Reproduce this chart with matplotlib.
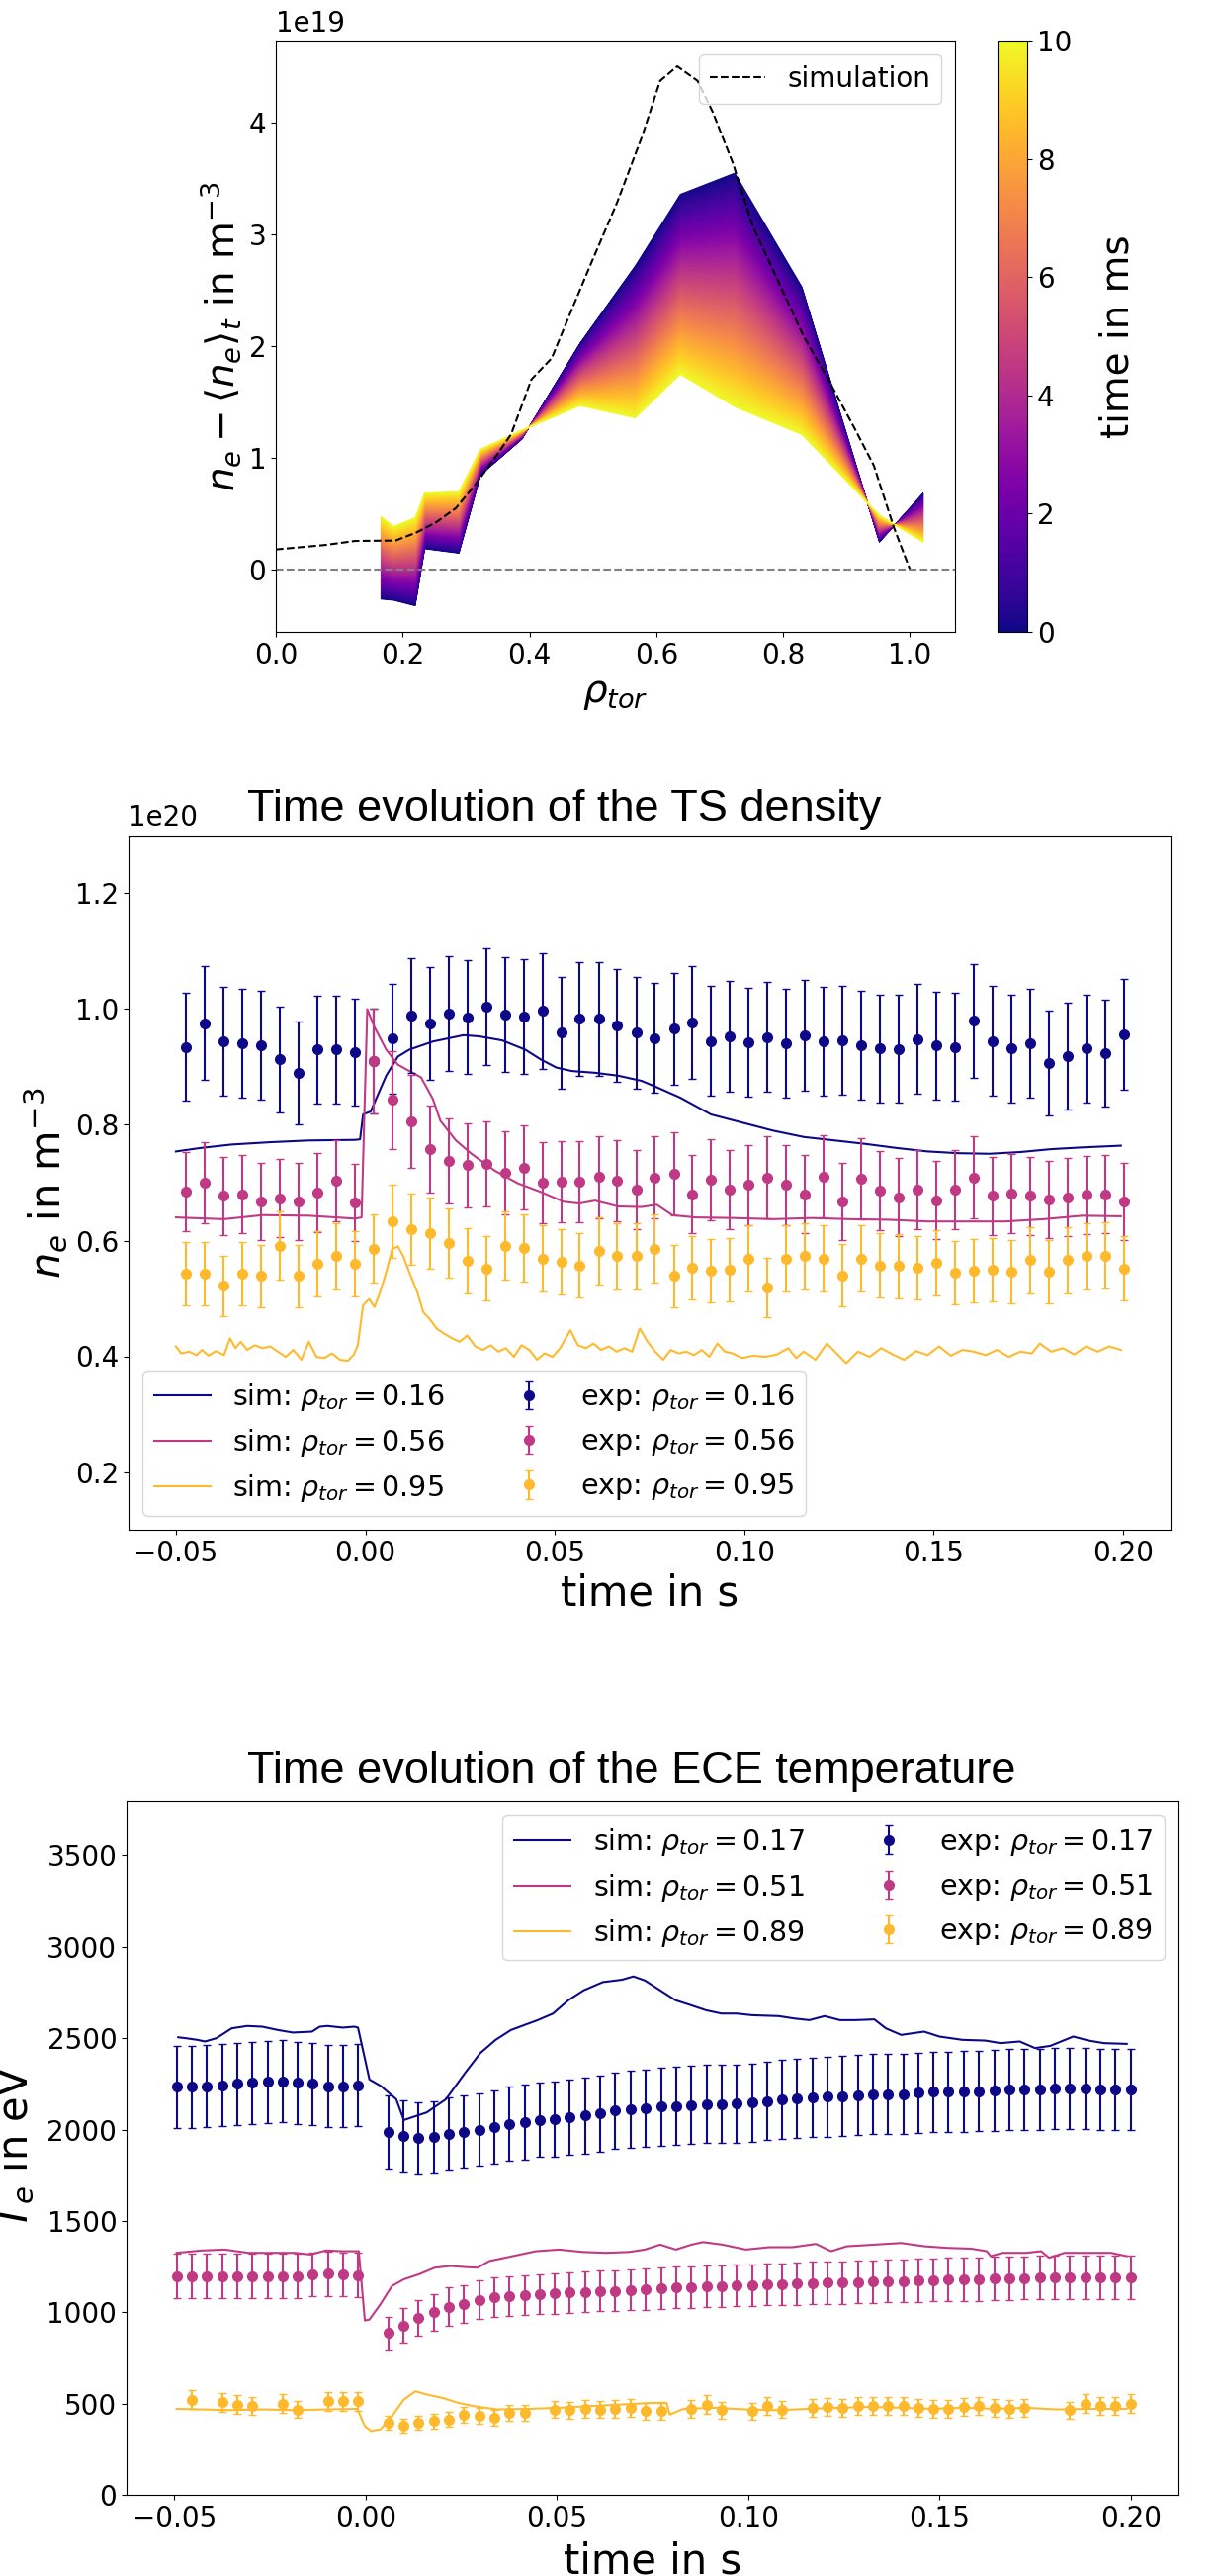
import numpy as np
import matplotlib
matplotlib.use("Agg")
import matplotlib.pyplot as plt
from matplotlib.colors import Normalize
from matplotlib.cm import ScalarMappable

# ---------------- panel 1: density change profile (1e19 m^-3) ----------------
rho_ts = [0.165, 0.185, 0.219, 0.234, 0.288, 0.322, 0.387, 0.479, 0.566, 0.637, 0.723, 0.829, 0.951, 1.02]
dne_t0 = [-0.26, -0.27, -0.32, 0.19, 0.15, 0.85, 1.17, 2.03, 2.72, 3.36, 3.55, 2.53, 0.25, 0.69]
dne_t10 = [0.48, 0.39, 0.47, 0.69, 0.70, 1.08, 1.25, 1.47, 1.36, 1.75, 1.46, 1.21, 0.49, 0.25]

rho_sim = [0.0, 0.078, 0.125, 0.189, 0.221, 0.252, 0.284, 0.316, 0.348, 0.371, 0.403, 0.435,
           0.467, 0.498, 0.538, 0.578, 0.606, 0.633, 0.665, 0.689, 0.721, 0.752, 0.792, 0.832,
           0.871, 0.911, 0.943, 0.975, 1.0]
dne_sim = [0.18, 0.22, 0.256, 0.26, 0.33, 0.42, 0.55, 0.77, 1.02, 1.21, 1.70, 1.89,
           2.33, 2.75, 3.28, 3.88, 4.37, 4.50, 4.37, 4.09, 3.63, 3.07, 2.58, 2.09,
           1.70, 1.28, 0.93, 0.37, 0.0]
t_max_ms = 10

# ---------------- panel 2: TS density (1e20 m^-3) ----------------
t_ts = [-0.0473, -0.0424, -0.0374, -0.0325, -0.0275, -0.0226, -0.0176, -0.0127, -0.0077, -0.0028,
        0.0022, 0.0071, 0.0121, 0.0170, 0.0220, 0.0269, 0.0319, 0.0368, 0.0418, 0.0467,
        0.0517, 0.0566, 0.0616, 0.0665, 0.0715, 0.0764, 0.0814, 0.0863, 0.0913, 0.0962,
        0.1012, 0.1061, 0.1111, 0.1160, 0.1210, 0.1259, 0.1309, 0.1358, 0.1408, 0.1457,
        0.1507, 0.1556, 0.1606, 0.1655, 0.1705, 0.1754, 0.1804, 0.1853, 0.1903, 0.1952, 0.2002]
ne_exp_016 = [0.935, 0.976, 0.944, 0.941, 0.938, 0.913, 0.890, 0.930, 0.930, 0.926,
              0.910, 0.949, 0.989, 0.975, 0.992, 0.986, 1.004, 0.990, 0.987, 0.997,
              0.959, 0.983, 0.983, 0.972, 0.959, 0.950, 0.966, 0.977, 0.945, 0.953,
              0.943, 0.952, 0.941, 0.955, 0.944, 0.946, 0.938, 0.932, 0.931, 0.948,
              0.937, 0.935, 0.980, 0.945, 0.932, 0.941, 0.907, 0.919, 0.932, 0.924, 0.956]
ne_exp_056 = [0.684, 0.700, 0.677, 0.680, 0.667, 0.673, 0.667, 0.683, 0.703, 0.666,
              0.910, 0.843, 0.806, 0.758, 0.737, 0.730, 0.732, 0.717, 0.726, 0.700,
              0.701, 0.701, 0.710, 0.703, 0.688, 0.709, 0.715, 0.680, 0.705, 0.688,
              0.696, 0.709, 0.696, 0.680, 0.711, 0.667, 0.707, 0.686, 0.675, 0.688,
              0.670, 0.688, 0.709, 0.677, 0.681, 0.677, 0.671, 0.675, 0.679, 0.680, 0.667]
ne_exp_095 = [0.543, 0.543, 0.522, 0.543, 0.539, 0.591, 0.539, 0.560, 0.573, 0.560,
              0.586, 0.634, 0.620, 0.613, 0.596, 0.565, 0.552, 0.591, 0.587, 0.569,
              0.563, 0.557, 0.582, 0.573, 0.573, 0.586, 0.539, 0.553, 0.548, 0.550,
              0.569, 0.519, 0.569, 0.573, 0.569, 0.540, 0.569, 0.557, 0.556, 0.553,
              0.562, 0.544, 0.548, 0.549, 0.546, 0.566, 0.546, 0.566, 0.573, 0.574, 0.552]

t_sim_016 = [-0.05, -0.0435, -0.0353, -0.0251, -0.0149, -0.0027, -0.0014, -0.0006, 0.0014, 0.0055,
             0.0086, 0.0116, 0.0178, 0.0259, 0.0300, 0.0361, 0.0422, 0.0463, 0.0504, 0.0545,
             0.0606, 0.0667, 0.0729, 0.0769, 0.0831, 0.0912, 0.0994, 0.1076, 0.1157, 0.1239,
             0.1320, 0.1402, 0.1484, 0.1565, 0.1647, 0.1729, 0.1810, 0.1892, 0.1994]
ne_sim_016 = [0.754, 0.760, 0.766, 0.770, 0.773, 0.774, 0.775, 0.818, 0.823, 0.885,
              0.918, 0.930, 0.944, 0.955, 0.953, 0.946, 0.930, 0.913, 0.899, 0.893,
              0.890, 0.885, 0.876, 0.865, 0.847, 0.818, 0.804, 0.790, 0.779, 0.773,
              0.767, 0.760, 0.754, 0.751, 0.750, 0.753, 0.758, 0.761, 0.764]
t_sim_056 = [-0.05, -0.0373, -0.0271, -0.0149, -0.0027, -0.0010, 0.0005, 0.0024, 0.0055, 0.0086,
             0.0116, 0.0147, 0.0178, 0.0198, 0.0239, 0.0280, 0.0341, 0.0402, 0.0463, 0.0524,
             0.0565, 0.0606, 0.0667, 0.0729, 0.0769, 0.0810, 0.0871, 0.0973, 0.1076, 0.1178,
             0.1280, 0.1382, 0.1484, 0.1586, 0.1688, 0.1790, 0.1892, 0.1994]
ne_sim_056 = [0.640, 0.637, 0.644, 0.643, 0.638, 0.640, 1.000, 0.969, 0.930, 0.904,
              0.893, 0.882, 0.845, 0.807, 0.773, 0.750, 0.721, 0.699, 0.684, 0.667,
              0.664, 0.669, 0.659, 0.658, 0.662, 0.644, 0.640, 0.639, 0.637, 0.639,
              0.637, 0.636, 0.633, 0.633, 0.633, 0.637, 0.643, 0.642]
t_sim_095 = [-0.0500, -0.0486, -0.0465, -0.0445, -0.0431, -0.0414, -0.0394, -0.0373, -0.0357, -0.0343,
             -0.0329, -0.0312, -0.0292, -0.0271, -0.0251, -0.0231, -0.0210, -0.0190, -0.0169, -0.0149,
             -0.0129, -0.0108, -0.0088, -0.0067, -0.0047, -0.0031, -0.0020, -0.0006, 0.0010, 0.0024,
             0.0039, 0.0055, 0.0071, 0.0086, 0.0100, 0.0116, 0.0137, 0.0153, 0.0169, 0.0188,
             0.0208, 0.0229, 0.0249, 0.0269, 0.0290, 0.0310, 0.0331, 0.0351, 0.0371, 0.0392,
             0.0412, 0.0433, 0.0453, 0.0473, 0.0494, 0.0514, 0.0541, 0.0561, 0.0582, 0.0602,
             0.0622, 0.0643, 0.0663, 0.0684, 0.0704, 0.0724, 0.0745, 0.0765, 0.0786, 0.0806,
             0.0827, 0.0847, 0.0867, 0.0888, 0.0908, 0.0929, 0.0949, 0.0969, 0.0994, 0.1024,
             0.1055, 0.1086, 0.1116, 0.1137, 0.1157, 0.1188, 0.1218, 0.1239, 0.1269, 0.1300,
             0.1331, 0.1361, 0.1392, 0.1422, 0.1453, 0.1484, 0.1514, 0.1545, 0.1576, 0.1606,
             0.1637, 0.1667, 0.1698, 0.1729, 0.1759, 0.1780, 0.1810, 0.1841, 0.1871, 0.1902,
             0.1933, 0.1963, 0.1994]
ne_sim_095 = [0.417, 0.405, 0.408, 0.402, 0.411, 0.401, 0.409, 0.402, 0.431, 0.414,
              0.425, 0.411, 0.419, 0.414, 0.417, 0.408, 0.399, 0.411, 0.394, 0.425,
              0.399, 0.397, 0.405, 0.394, 0.392, 0.402, 0.419, 0.488, 0.499, 0.485,
              0.511, 0.545, 0.585, 0.590, 0.573, 0.545, 0.511, 0.476, 0.465, 0.448,
              0.439, 0.431, 0.425, 0.436, 0.417, 0.411, 0.419, 0.408, 0.414, 0.399,
              0.419, 0.411, 0.394, 0.405, 0.399, 0.414, 0.445, 0.419, 0.414, 0.422,
              0.411, 0.417, 0.408, 0.414, 0.408, 0.448, 0.425, 0.408, 0.394, 0.411,
              0.405, 0.408, 0.402, 0.411, 0.399, 0.422, 0.408, 0.405, 0.397, 0.401,
              0.399, 0.403, 0.414, 0.397, 0.408, 0.394, 0.422, 0.408, 0.388, 0.408,
              0.399, 0.414, 0.403, 0.394, 0.409, 0.402, 0.417, 0.401, 0.411, 0.408,
              0.402, 0.411, 0.399, 0.408, 0.405, 0.422, 0.408, 0.414, 0.403, 0.417,
              0.408, 0.417, 0.411]

# ---------------- panel 3: ECE temperature (eV) ----------------
t_ece = [-0.0494, -0.0454, -0.0415, -0.0375, -0.0336, -0.0296, -0.0256, -0.0217, -0.0177, -0.0138,
         -0.0098, -0.0058, -0.0019,
         0.0059, 0.0099, 0.0138, 0.0178, 0.0218, 0.0257, 0.0297, 0.0336, 0.0376, 0.0416,
         0.0455, 0.0495, 0.0534, 0.0574, 0.0614, 0.0653, 0.0693, 0.0732, 0.0772, 0.0812,
         0.0851, 0.0891, 0.0930, 0.0970, 0.1010, 0.1049, 0.1089, 0.1128, 0.1168, 0.1208,
         0.1247, 0.1287, 0.1326, 0.1366, 0.1406, 0.1445, 0.1485, 0.1524, 0.1564, 0.1604,
         0.1643, 0.1683, 0.1722, 0.1762, 0.1802, 0.1841, 0.1881, 0.1920, 0.1960, 0.2000]
te_exp_017 = [2233, 2233, 2238, 2242, 2251, 2256, 2260, 2265, 2256, 2251, 2238, 2238, 2242,
              1986, 1964, 1955, 1959, 1977, 1989, 2000, 2013, 2031, 2040,
              2054, 2058, 2067, 2076, 2088, 2103, 2112, 2115, 2126, 2130,
              2135, 2139, 2139, 2143, 2148, 2157, 2166, 2171, 2175, 2180,
              2184, 2188, 2193, 2193, 2193, 2202, 2206, 2206, 2208, 2211,
              2215, 2217, 2220, 2220, 2224, 2224, 2224, 2220, 2217, 2217]
te_exp_051 = [1199, 1199, 1199, 1199, 1199, 1199, 1199, 1199, 1199, 1208, 1211, 1208, 1204,
              886, 928, 969, 1000, 1031, 1045, 1069, 1081, 1087, 1094,
              1099, 1103, 1108, 1112, 1117, 1117, 1123, 1126, 1132, 1135,
              1139, 1141, 1144, 1148, 1148, 1153, 1153, 1157, 1159, 1162,
              1162, 1166, 1168, 1171, 1171, 1175, 1177, 1179, 1180, 1180,
              1184, 1186, 1188, 1190, 1190, 1190, 1193, 1193, 1190, 1190]
nan = float("nan")
te_exp_089 = [nan, 522, nan, 507, 495, 489, nan, 500, 468, nan, 513, 513, 513,
              395, 377, 395, 404, 413, 440, 431, 422, 449, 449,
              nan, 468, 464, 471, 468, 471, 477, 458, 458, nan,
              471, 495, 464, nan, 458, 486, 468, nan, 477, 482,
              477, 486, 489, 489, 486, 477, 471, 471, 482, 486,
              477, 471, 477, nan, nan, 464, 500, 489, 489, 500]

t_te_017 = [-0.049, -0.047, -0.044, -0.042, -0.039, -0.035, -0.031, -0.027, -0.023, -0.019,
            -0.014, -0.012, -0.010, -0.006, -0.003, -0.002, 0.001, 0.004, 0.008, 0.010,
            0.016, 0.021, 0.026, 0.030, 0.034, 0.038, 0.045, 0.049, 0.053, 0.057,
            0.062, 0.067, 0.070, 0.073, 0.077, 0.081, 0.085, 0.089, 0.093, 0.097,
            0.101, 0.108, 0.112, 0.116, 0.120, 0.124, 0.128, 0.133, 0.136, 0.140,
            0.146, 0.150, 0.156, 0.162, 0.166, 0.171, 0.175, 0.179, 0.185, 0.189,
            0.193, 0.199]
te_sim_017 = [2505, 2500, 2491, 2482, 2500, 2554, 2567, 2563, 2545, 2531,
              2536, 2563, 2567, 2558, 2563, 2558, 2274, 2238, 2166, 2052,
              2094, 2166, 2310, 2419, 2491, 2545, 2599, 2635, 2708, 2762,
              2807, 2820, 2838, 2816, 2762, 2708, 2681, 2653, 2635, 2635,
              2626, 2621, 2608, 2599, 2621, 2599, 2599, 2603, 2554, 2518,
              2536, 2509, 2491, 2487, 2473, 2482, 2446, 2458, 2509, 2487,
              2473, 2469]
t_te_051 = [-0.0494, -0.0429, -0.0368, -0.0307, -0.0246, -0.0185, -0.0144, -0.0104, -0.0063, -0.0018,
            -0.0002, 0.0010, 0.0039, 0.0069, 0.0100, 0.0140, 0.0181, 0.0222, 0.0262, 0.0293,
            0.0323, 0.0384, 0.0445, 0.0506, 0.0567, 0.0628, 0.0689, 0.0730, 0.0770, 0.0811,
            0.0852, 0.0882, 0.0933, 0.0994, 0.1055, 0.1116, 0.1177, 0.1217, 0.1258, 0.1299,
            0.1360, 0.1400, 0.1461, 0.1522, 0.1583, 0.1624, 0.1634, 0.1665, 0.1726, 0.1766,
            0.1787, 0.1827, 0.1888, 0.1949, 0.1990]
te_sim_051 = [1325, 1338, 1343, 1325, 1325, 1325, 1316, 1338, 1334, 1334,
              955, 960, 1045, 1144, 1180, 1208, 1244, 1253, 1247, 1244,
              1280, 1307, 1334, 1343, 1330, 1325, 1330, 1343, 1370, 1343,
              1370, 1384, 1370, 1343, 1356, 1356, 1374, 1334, 1361, 1366,
              1374, 1379, 1361, 1352, 1348, 1334, 1307, 1325, 1325, 1334,
              1298, 1325, 1325, 1325, 1307]
t_te_089 = [-0.0494, -0.0429, -0.0348, -0.0266, -0.0185, -0.0104, -0.0022, -0.0002, 0.0014, 0.0039,
            0.0069, 0.0100, 0.0130, 0.0161, 0.0201, 0.0242, 0.0283, 0.0343, 0.0425, 0.0506,
            0.0587, 0.0669, 0.0750, 0.0787, 0.0795, 0.0831, 0.0913, 0.0994, 0.1075, 0.1157,
            0.1238, 0.1319, 0.1400, 0.1482, 0.1563, 0.1644, 0.1726, 0.1807, 0.1888, 0.1990]
te_sim_089 = [471, 468, 464, 468, 464, 468, 471, 377, 350, 359,
              431, 522, 567, 549, 531, 504, 486, 468, 471, 477,
              486, 495, 504, 504, 440, 471, 477, 468, 464, 471,
              477, 482, 477, 471, 477, 471, 477, 468, 471, 471]

rel_err = 0.1  # error bars are 10 % of the measured value

c_blue = plt.cm.plasma(0.0)
c_pink = plt.cm.plasma(0.45)
c_yellow = plt.cm.plasma(0.85)

plt.rcParams["font.family"] = ["DejaVu Sans"]
plt.rcParams["font.size"] = 20
plt.rcParams["xtick.labelsize"] = 20
plt.rcParams["ytick.labelsize"] = 20

fig = plt.figure(figsize=(12.33, 26.05), dpi=100)
W, H = 1233.0, 2605.0


def box(left, top, right, bottom):
    return [left / W, 1 - bottom / H, (right - left) / W, (bottom - top) / H]


title_font = dict(family=["Liberation Sans", "DejaVu Sans"], fontsize=32.5)

# ---------------- panel 1 ----------------
ax1 = fig.add_axes(box(279, 41, 966, 639))
cax = fig.add_axes(box(1009, 41, 1039, 639))
cmap = plt.cm.plasma
a = np.array(dne_t0)
b = np.array(dne_t10)
n_steps = 120
for i in range(n_steps):
    f0, f1 = i / n_steps, (i + 1) / n_steps
    col = cmap((f0 + f1) / 2)
    ax1.fill_between(rho_ts, a + (b - a) * f0, a + (b - a) * f1, color=col,
                     edgecolor=col, linewidth=0.6)
ax1.plot(rho_sim, dne_sim, "k--", lw=1.5, label="simulation")
ax1.axhline(0, color="gray", ls="--", lw=1.5)
ax1.set_xlim(0, 1.071)
ax1.set_ylim(-0.557, 4.73)
ax1.set_xticks([0.0, 0.2, 0.4, 0.6, 0.8, 1.0])
ax1.set_yticks([0, 1, 2, 3, 4])
ax1.text(0, 1.005, "1e19", transform=ax1.transAxes, fontsize=20, va="bottom", ha="left")
ax1.set_xlabel(r"$\rho_{tor}$", fontsize=28)
ax1.set_ylabel(r"$n_e - \langle n_e \rangle_t$ in m$^{-3}$", fontsize=28)
ax1.legend(loc="upper right", fontsize=20)
sm = ScalarMappable(norm=Normalize(0, t_max_ms), cmap=cmap)
cb = fig.colorbar(sm, cax=cax, ticks=[0, 2, 4, 6, 8, 10])
cb.set_label("time in ms", fontsize=28, labelpad=20)
cb.outline.set_linewidth(0.8)
# title of this panel lies almost completely above the top edge, only descenders show
fig.text(250 / W, 1 + 9 / H, "Density change (TS) compared to the simulated profile",
         va="baseline", ha="left", **title_font)

# ---------------- panel 2 ----------------
ax2 = fig.add_axes(box(130, 845, 1184, 1547))
sims = [(t_sim_016, ne_sim_016, c_blue, "0.16"),
        (t_sim_056, ne_sim_056, c_pink, "0.56"),
        (t_sim_095, ne_sim_095, c_yellow, "0.95")]
for t, v, c, r in sims:
    ax2.plot(t, v, color=c, lw=1.5, label=r"sim: $\rho_{tor} = %s$" % r)
exps = [(ne_exp_016, c_blue, "0.16"), (ne_exp_056, c_pink, "0.56"), (ne_exp_095, c_yellow, "0.95")]
for v, c, r in exps:
    v = np.array(v)
    ax2.errorbar(t_ts, v, yerr=rel_err * v, fmt="o", color=c, ms=7, capsize=3,
                 elinewidth=1.5, label=r"exp: $\rho_{tor} = %s$" % r)
ax2.set_xlim(-0.0625, 0.2125)
ax2.set_ylim(0.1, 1.3)
ax2.set_xticks([-0.05, 0.0, 0.05, 0.10, 0.15, 0.20])
ax2.set_xticklabels(["\u22120.05", "0.00", "0.05", "0.10", "0.15", "0.20"])
ax2.set_yticks([0.2, 0.4, 0.6, 0.8, 1.0, 1.2])
ax2.set_yticklabels(["0.2", "0.4", "0.6", "0.8", "1.0", "1.2"])
ax2.text(0, 1.005, "1e20", transform=ax2.transAxes, fontsize=20, va="bottom", ha="left")
ax2.set_xlabel("time in s", fontsize=30)
ax2.set_ylabel(r"$n_e$ in m$^{-3}$", fontsize=30)
ax2.legend(loc="lower left", ncol=2, fontsize=20.5)
fig.text(250 / W, 1 - 830 / H, "Time evolution of the TS density",
         va="baseline", ha="left", **title_font)

# ---------------- panel 3 ----------------
ax3 = fig.add_axes(box(128, 1821, 1192, 2523))
sims = [(t_te_017, te_sim_017, c_blue, "0.17"),
        (t_te_051, te_sim_051, c_pink, "0.51"),
        (t_te_089, te_sim_089, c_yellow, "0.89")]
for t, v, c, r in sims:
    ax3.plot(t, v, color=c, lw=1.5, label=r"sim: $\rho_{tor} = %s$" % r)
exps = [(te_exp_017, c_blue, "0.17"), (te_exp_051, c_pink, "0.51"), (te_exp_089, c_yellow, "0.89")]
for v, c, r in exps:
    v = np.array(v, dtype=float)
    ax3.errorbar(t_ece, v, yerr=rel_err * v, fmt="o", color=c, ms=7, capsize=3,
                 elinewidth=1.5, label=r"exp: $\rho_{tor} = %s$" % r)
ax3.set_xlim(-0.0625, 0.2125)
ax3.set_ylim(0, 3800)
ax3.set_xticks([-0.05, 0.0, 0.05, 0.10, 0.15, 0.20])
ax3.set_xticklabels(["\u22120.05", "0.00", "0.05", "0.10", "0.15", "0.20"])
ax3.set_yticks([0, 500, 1000, 1500, 2000, 2500, 3000, 3500])
ax3.set_xlabel("time in s", fontsize=30, labelpad=6)
ax3.set_ylabel(r"$T_e$ in eV", fontsize=30)
ax3.yaxis.set_label_coords(-0.085, 0.5)
ax3.legend(loc="upper right", ncol=2, fontsize=20.5)
fig.text(250 / W, 1 - 1803 / H, "Time evolution of the ECE temperature",
         va="baseline", ha="left", **title_font)

fig.savefig("out.png", dpi=100)
